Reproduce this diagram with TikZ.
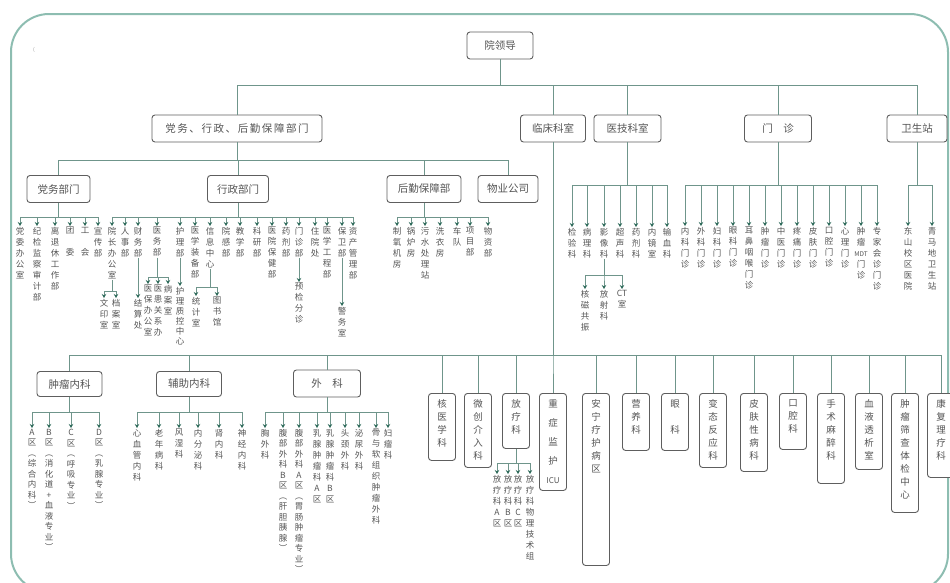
\documentclass[tikz,border=0pt]{standalone}
\usepackage{fontspec}
\setmainfont{Noto Sans CJK SC}
\usetikzlibrary{arrows.meta}
\definecolor{bord}{HTML}{8DBDB1}
\definecolor{conn}{HTML}{6F958B}
\definecolor{arrc}{HTML}{2F6B5B}
\definecolor{boxd}{HTML}{5E5E5E}
\definecolor{txt}{HTML}{555555}
\ExplSyntaxOn
\NewDocumentCommand\vt{O{11pt}m}{
  \vbox{\baselineskip=#1\relax\lineskiplimit=-20pt\relax\lineskip=0pt\relax
    \tl_map_inline:nn {#2}{\hbox_to_wd:nn {1.2em}{\hss ##1\hss}}}
}
\ExplSyntaxOff
\newcommand\vb[3][13pt]{\vbox to #2{\kern6pt\hbox to 26pt{\hss\vt[#1]{#3}\hss}\vss}}
\tikzset{
 lbox/.style={draw=boxd, line width=0.9pt, rounded corners=3pt, fill=white, text=txt, inner sep=0pt, minimum height=27pt, font=\fontsize{10.5}{12}\selectfont},
 vbx/.style={draw=boxd, line width=0.9pt, rounded corners=3pt, fill=white, text=txt, inner sep=0pt, minimum width=27pt, anchor=north, font=\fontsize{9.5}{11}\selectfont},
 vtx/.style={text=txt, inner sep=1pt, anchor=north, font=\fontsize{8.5}{10}\selectfont},
 ln/.style={draw=conn, line width=0.8pt},
 ar/.style={ln, -{Stealth[length=4pt,width=4.5pt,color=arrc]}},
}
\begin{document}
\begin{tikzpicture}[x=1pt,y=-1pt]
\useasboundingbox (0,0) rectangle (950,582);
\draw[bord, line width=2pt, rounded corners=38pt] (11,14) rectangle (948,592);
\node[text=black!40, font=\tiny] (mk) at (34,50) {(};

% root
\node[lbox, minimum width=66pt] (ld) at (500,45.5) {院领导};
% row 2
\node[lbox, minimum width=170pt] (dx) at (237,128.5) {\addfontfeature{LetterSpace=15}党务、行政、后勤保障部门};
\node[lbox, minimum width=65pt] (lc) at (553,128.5) {临床科室};
\node[lbox, minimum width=67pt] (yj) at (627.5,128.5) {医技科室};
\node[lbox, minimum width=67pt] (mz) at (778,128.5) {门\hspace{1em}诊};
\node[lbox, minimum width=60pt] (ws) at (917,128.5) {卫生站};
\foreach \c in {dx,lc,yj,mz,ws} \draw[ln] (ld.south) -- ++(0,26) -| (\c.north);

% row 3
\node[lbox, minimum width=63pt] (dw) at (58.5,189) {党务部门};
\node[lbox, minimum width=61pt] (xz) at (238,189) {行政部门};
\node[lbox, minimum width=74pt] (hq) at (424,189) {后勤保障部};
\node[lbox, minimum width=60pt] (wy) at (508,189) {物业公司};
\foreach \c in {dw,xz,hq,wy} \draw[ln] (dx.south) -- ++(0,18) -| (\c.north);

% party
\node[vtx] (d1) at (20,226) {\vt{党委办公室}};
\node[vtx] (d2) at (37,226) {\vt{纪检监察审计部}};
\node[vtx] (d3) at (55,226) {\vt{离退休工作部}};
\node[vtx] (d4) at (70,226) {\vt{团{}委}};
\node[vtx] (d5) at (85,226) {\vt{工{}会}};
\node[vtx] (d6) at (98,226) {\vt{宣传部}};
\foreach \c in {d1,d2,d3,d4,d5,d6} \draw[ar] (dw.south) -- ++(0,14) -| (\c.north);

% administration
\node[vtx] (x1) at (112,226) {\vt{院长办公室}};
\node[vtx] (x2) at (125,226) {\vt{人事部}};
\node[vtx] (x3) at (138,226) {\vt{财务部}};
\node[vtx] (x4) at (157,226) {\vt{医务部}};
\node[vtx] (x5) at (180,226) {\vt{护理部}};
\node[vtx] (x6) at (195,226) {\vt{医学装备部}};
\node[vtx] (x7) at (210,226) {\vt{信息中心}};
\node[vtx] (x8) at (226,226) {\vt{院感部}};
\node[vtx] (x9) at (240,226) {\vt{教学部}};
\node[vtx] (x10) at (257,226) {\vt{科研部}};
\node[vtx] (x11) at (272,226) {\vt{医院保健部}};
\node[vtx] (x12) at (286,226) {\vt{药剂部}};
\node[vtx] (x13) at (299,226) {\vt{门诊部}};
\node[vtx] (x14) at (315,226) {\vt{住院处}};
\node[vtx] (x15) at (327,226) {\vt{医学工程部}};
\node[vtx] (x16) at (342,226) {\vt{保卫部}};
\node[vtx] (x17) at (353,226) {\vt{资产管理部}};
\foreach \c in {x1,x2,x3,x4,x5,x6,x7,x8,x9,x10,x11,x12,x13,x14,x15,x16,x17}
  \draw[ar] (xz.south) -- ++(0,14) -| (\c.north);

\node[vtx] (x1a) at (104,298) {\vt{文印室}};
\node[vtx] (x1b) at (116,298) {\vt{档案室}};
\foreach \c in {x1a,x1b} \draw[ar] (x1.south) -- (x1.south |- 0,291) -| (\c.north);
\node[vtx] (x3a) at (138,298) {\vt{结算处}};
\draw[ar] (x3.south) -- (x3a.north);
\node[vtx] (x4a) at (148,284) {\vt{医保办公室}};
\node[vtx] (x4b) at (158,284) {\vt{医患关系办}};
\node[vtx] (x4c) at (168,284) {\vt{病案室}};
\foreach \c in {x4a,x4b,x4c} \draw[ar] (x4.south) -- (x4.south |- 0,277) -| (\c.north);
\node[vtx] (x5a) at (180,286) {\vt[10pt]{护理质控中心}};
\draw[ar] (x5.south) -- (x5a.north);
\node[vtx] (x7a) at (196,296) {\vt{统计室}};
\node[vtx] (x7b) at (217,296) {\vt{图书馆}};
\foreach \c in {x7a,x7b} \draw[ar] (x7.south) -- (x7.south |- 0,287) -| (\c.north);
\node[vtx] (x13a) at (299,282) {\vt{预检分诊}};
\draw[ar] (x13.south) -- (x13a.north);
\node[vtx] (x16a) at (342,306) {\vt{警务室}};
\draw[ar] (x16.south) -- (x16a.north);

% logistics
\node[vtx] (h1) at (397,226) {\vt{制氧机房}};
\node[vtx] (h2) at (411,226) {\vt{锅炉房}};
\node[vtx] (h3) at (425,226) {\vt{污水处理站}};
\node[vtx] (h4) at (440,226) {\vt{洗衣房}};
\node[vtx] (h5) at (457,226) {\vt{车队}};
\node[vtx] (h6) at (470,226) {\vt{项目部}};
\node[vtx] (h7) at (488,226) {\vt{物资部}};
\foreach \c in {h1,h2,h3,h4,h5,h6,h7} \draw[ar] (hq.south) -- ++(0,14) -| (\c.north);

% medical technology
\node[vtx] (y1) at (572,227) {\vt{检验科}};
\node[vtx] (y2) at (587,227) {\vt{病理科}};
\node[vtx] (y3) at (604,227) {\vt{影像科}};
\node[vtx] (y4) at (620,227) {\vt{超声科}};
\node[vtx] (y5) at (636,227) {\vt{药剂科}};
\node[vtx] (y6) at (652,227) {\vt{内镜室}};
\node[vtx] (y7) at (667,227) {\vt{输血科}};
\foreach \c in {y1,y2,y3,y4,y5,y6,y7} \draw[ar] (yj.south) -- ++(0,43) -| (\c.north);
\node[vtx] (y3a) at (585,289) {\vt{核磁共振}};
\node[vtx] (y3b) at (604,289) {\vt{放射科}};
\node[vtx] (y3c) at (622,289) {\vt{{CT}室}};
\foreach \c in {y3a,y3b,y3c} \draw[ar] (y3.south) -- (y3.south |- 0,275) -| (\c.north);

% outpatient
\node[vtx] (m1) at (685,226) {\vt{内科门诊}};
\node[vtx] (m2) at (701,226) {\vt{外科门诊}};
\node[vtx] (m3) at (717,226) {\vt{妇科门诊}};
\node[vtx] (m4) at (733,226) {\vt{眼科门诊}};
\node[vtx] (m5) at (749,226) {\vt{耳鼻咽喉门诊}};
\node[vtx] (m6) at (765,226) {\vt{肿瘤门诊}};
\node[vtx] (m7) at (781,226) {\vt{中医门诊}};
\node[vtx] (m8) at (797,226) {\vt{疼痛门诊}};
\node[vtx] (m9) at (813,226) {\vt{皮肤门诊}};
\node[vtx] (m10) at (829,226) {\vt{口腔门诊}};
\node[vtx] (m11) at (845,226) {\vt{心理门诊}};
\node[vtx] (m12) at (861,226) {\vt{肿瘤{\fontsize{6.5}{7}\selectfont MDT}门诊}};
\node[vtx] (m13) at (877,226) {\vt{专家会诊门诊}};
\foreach \c in {m1,m2,m3,m4,m5,m6,m7,m8,m9,m10,m11,m12,m13} \draw[ar] (mz.south) -- ++(0,43) -| (\c.north);

% health stations
\node[vtx] (w1) at (908,226) {\vt{东山校区医院}};
\node[vtx] (w2) at (932,226) {\vt{青马地卫生站}};
\foreach \c in {w1,w2} \draw[ar] (ws.south) -- ++(0,43) -| (\c.north);

% clinical departments
\node[lbox, minimum width=65pt, minimum height=25pt] (zl) at (69.5,384) {肿瘤内科};
\node[lbox, minimum width=65pt, minimum height=25pt] (fz) at (189,384) {辅助内科};
\node[lbox, minimum width=67pt, minimum height=27pt] (wk) at (327,383.5) {外\hspace{1em}科};
\node[vbx] (hyx) at (442,393) {\vb{67pt}{核医学科}};
\node[vbx] (wc) at (478,393) {\vb{74pt}{微创介入科}};
\node[vbx] (fl) at (516,393) {\vb{55pt}{放疗科}};
\node[vbx] (icu) at (553,393) {\vb[19pt]{97pt}{重症监护{\fontsize{8}{9}\selectfont ICU}}};
\node[vbx] (an) at (596,393) {\vb{172pt}{安宁疗护病区}};
\node[vbx] (yy) at (636,393) {\vb{57pt}{营养科}};
\node[vbx] (yk) at (675,393) {\vb{57pt}{眼{}科}};
\node[vbx] (bt) at (713,393) {\vb{74pt}{变态反应科}};
\node[vbx] (pf) at (754,393) {\vb{78pt}{皮肤性病科}};
\node[vbx] (kq) at (793,393) {\vb{56pt}{口腔科}};
\node[vbx] (ss) at (831,393) {\vb{90pt}{手术麻醉科}};
\node[vbx] (xy) at (869,393) {\vb{76pt}{血液透析室}};
\node[vbx] (sc) at (905,393) {\vb{119pt}{肿瘤筛查体检中心}};
\node[vbx] (kf) at (941,393) {\vb{84pt}{康复理疗科}};
\foreach \c in {zl,fz,wk,hyx,wc,fl,icu,an,yy,yk,bt,pf,kq,ss,xy,sc,kf}
  \draw[ln] (lc.south) -- ++(0,212.5) -| (\c.north);

% oncology internal medicine
\node[vtx] (z1) at (32,428) {\vt[10.5pt]{A区︵综合内科︶}};
\node[vtx] (z2) at (49,428) {\vt[10.5pt]{B区︵消化道+血液专业︶}};
\node[vtx] (z3) at (71,428) {\vt[10.5pt]{C区︵呼吸专业︶}};
\node[vtx] (z4) at (99,428) {\vt[10.5pt]{D区︵乳腺专业︶}};
\foreach \c in {z1,z2,z3,z4} \draw[ar] (zl.south) -- ++(0,15.5) -| (\c.north);

% auxiliary internal medicine
\node[vtx] (f1) at (137,428) {\vt{心血管内科}};
\node[vtx] (f2) at (159,428) {\vt{老年病科}};
\node[vtx] (f3) at (179,428) {\vt{风湿科}};
\node[vtx] (f4) at (198,428) {\vt{内分泌科}};
\node[vtx] (f5) at (219,428) {\vt{肾内科}};
\node[vtx] (f6) at (242,428) {\vt{神经内科}};
\foreach \c in {f1,f2,f3,f4,f5,f6} \draw[ar] (fz.south) -- ++(0,15.5) -| (\c.north);

% surgery
\node[vtx] (s1) at (265,428) {\vt{胸外科}};
\node[vtx] (s2) at (283,428) {\vt[10.5pt]{腹部外科B区︵肝胆胰腺︶}};
\node[vtx] (s3) at (299,428) {\vt[10.5pt]{腹部外科A区︵胃肠肿瘤专业︶}};
\node[vtx] (s4) at (317,428) {\vt{乳腺肿瘤科A区}};
\node[vtx] (s5) at (330,428) {\vt{乳腺肿瘤科B区}};
\node[vtx] (s6) at (345,428) {\vt{头颈外科}};
\node[vtx] (s7) at (359,428) {\vt{泌尿外科}};
\node[vtx] (s8) at (376,428) {\vt{骨与软组织肿瘤外科}};
\node[vtx] (s9) at (388,428) {\vt{妇瘤科}};
\foreach \c in {s1,s2,s3,s4,s5,s6,s7,s8,s9} \draw[ar] (wk.south) -- ++(0,15) -| (\c.north);

% radiotherapy
\node[vtx] (r1) at (497,474) {\vt{放疗科A区}};
\node[vtx] (r2) at (508,474) {\vt{放疗科B区}};
\node[vtx] (r3) at (518,474) {\vt{放疗科C区}};
\node[vtx] (r4) at (530,474) {\vt{放疗科物理技术组}};
\foreach \c in {r1,r2,r3,r4} \draw[ar] (fl.south) -- ++(0,14) -| (\c.north);
\end{tikzpicture}
\end{document}
